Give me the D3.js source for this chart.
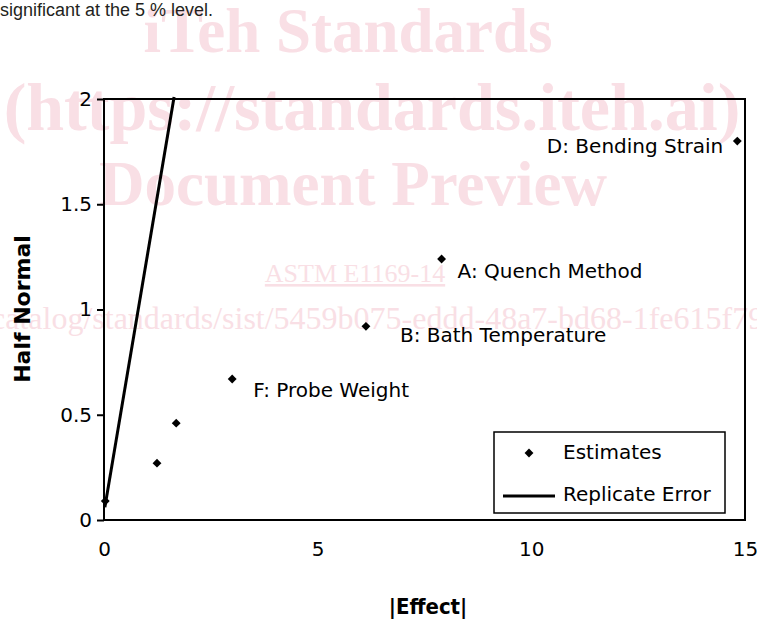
<!DOCTYPE html>
<html>
<head>
<meta charset="utf-8">
<script src="https://cdn.jsdelivr.net/npm/d3@7"></script>
<style>
  body { margin: 0; background: #fff; }
  svg { display: block; }
</style>
</head>
<body>
<div id="chart"></div>
<script>
var w = 757;
var h = 619;

// data
var effectLabels = ["", "", "", "F: Probe Weight", "B: Bath Temperature", "A: Quench Method", "D: Bending Strain"];
var effectValues = [0.03, 1.24, 1.69, 3.0, 6.13, 7.9, 14.82];
var halfNormalValues = [0.09, 0.27, 0.46, 0.67, 0.92, 1.24, 1.80];
var replicateX = [0.02, 1.64];
var replicateY = [0.06, 2.01];
var xTicks = [0, 5, 10, 15];
var yTicks = [0, 0.5, 1, 1.5, 2];
var legendItems = ["Estimates", "Replicate Error"];
var watermark = ["iTeh Standards", "(https://standards.iteh.ai)", "Document Preview", "ASTM E1169-14",
  "catalog/standards/sist/5459b075-eddd-48a7-bd68-1fe615f79e4c/astm-e1169-14"];

var font = "'DejaVu Sans', Verdana, sans-serif";

var svg = d3.select("#chart")
    .append("svg")
    .attr("width", w)
    .attr("height", h);

// pale watermark behind the chart
var wm = svg.append("g")
    .attr("fill", "#f9dfe5")
    .style("font-family", "'Liberation Serif', 'Times New Roman', serif");
wm.append("text").attr("x", 348).attr("y", 52).attr("text-anchor", "middle")
    .style("font-size", "63px").style("font-weight", "bold").text(watermark[0]);
wm.append("text").attr("x", 372).attr("y", 130).attr("text-anchor", "middle")
    .style("font-size", "68px").style("font-weight", "bold").text(watermark[1]);
wm.append("text").attr("x", 353).attr("y", 205).attr("text-anchor", "middle")
    .style("font-size", "63px").style("font-weight", "bold").text(watermark[2]);
wm.append("text").attr("x", 355).attr("y", 282).attr("text-anchor", "middle")
    .style("font-size", "26px").style("text-decoration", "underline").text(watermark[3]);
wm.append("text").attr("x", -9).attr("y", 329)
    .style("font-size", "32px").text(watermark[4]);

svg.append("text")
    .attr("x", 0)
    .attr("y", 16)
    .attr("fill", "#231f20")
    .style("font-family", "'Liberation Sans', Arial, sans-serif")
    .style("font-size", "18px")
    .text("significant at the 5 % level.");

var margin = {top: 99, right: 12, bottom: 99, left: 104},
    width = w - margin.left - margin.right,
    height = h - margin.top - margin.bottom;

var x = d3.scaleLinear().domain([0, 15]).range([0, width]),
    y = d3.scaleLinear().domain([0, 2]).range([height, 0]);

var g = svg.append("g")
    .attr("transform", "translate(" + margin.left + "," + margin.top + ")");

// x axis
var xAxis = g.append("g")
    .attr("transform", "translate(0," + height + ")")
    .call(d3.axisBottom(x).tickValues(xTicks).tickSize(0).tickPadding(22));
xAxis.select(".domain").remove();
xAxis.selectAll("text")
    .style("font-family", font)
    .style("font-size", "20px")
    .attr("fill", "#000");

// y axis
var yAxis = g.append("g")
    .call(d3.axisLeft(y).tickValues(yTicks).tickSize(7).tickPadding(5)
      .tickFormat(function(d) { return d; }));
yAxis.select(".domain").remove();
yAxis.selectAll("line").attr("stroke", "#000").attr("stroke-width", 2);
yAxis.selectAll("text")
    .style("font-family", font)
    .style("font-size", "20px")
    .attr("fill", "#000");

// plot frame
g.append("rect")
    .attr("x", 0)
    .attr("y", 0)
    .attr("width", width)
    .attr("height", height)
    .attr("fill", "none")
    .attr("stroke", "#000")
    .attr("stroke-width", 2);

// replicate error line
var line = d3.line()
    .x(function(d) { return x(d[0]); })
    .y(function(d) { return y(d[1]); });
g.append("path")
    .datum(d3.zip(replicateX, replicateY))
    .attr("d", line)
    .attr("fill", "none")
    .attr("stroke", "#000")
    .attr("stroke-width", 3);

// estimates
var diamond = d3.symbol().type(d3.symbolDiamond2).size(50);
var points = d3.zip(effectValues, halfNormalValues, effectLabels);
g.selectAll(".pt")
    .data(points)
    .enter().append("path")
      .attr("class", "pt")
      .attr("d", diamond)
      .attr("transform", function(d) { return "translate(" + x(d[0]) + "," + y(d[1]) + ")"; })
      .attr("fill", "#000");

// label offsets (dx, dy, anchor) for the named effects
var labelOffset = {
  "F: Probe Weight": [21, 11, "start"],
  "B: Bath Temperature": [34, 9, "start"],
  "A: Quench Method": [16, 12, "start"],
  "D: Bending Strain": [-14, 5, "end"]
};
g.selectAll(".lbl")
    .data(points.filter(function(d) { return d[2] !== ""; }))
    .enter().append("text")
      .attr("class", "lbl")
      .attr("x", function(d) { return x(d[0]) + labelOffset[d[2]][0]; })
      .attr("y", function(d) { return y(d[1]) + labelOffset[d[2]][1]; })
      .attr("dy", "0.35em")
      .attr("text-anchor", function(d) { return labelOffset[d[2]][2]; })
      .style("font-family", font)
      .style("font-size", "20px")
      .attr("fill", "#000")
      .text(function(d) { return d[2]; });

// legend
var lg = g.append("g").attr("transform", "translate(390,333)");
lg.append("rect")
    .attr("width", 231)
    .attr("height", 81)
    .attr("fill", "#fff")
    .attr("stroke", "#000")
    .attr("stroke-width", 1.5);
lg.append("path")
    .attr("d", diamond)
    .attr("transform", "translate(35,21)")
    .attr("fill", "#000");
lg.append("line")
    .attr("x1", 9).attr("x2", 61)
    .attr("y1", 64).attr("y2", 64)
    .attr("stroke", "#000")
    .attr("stroke-width", 3);
lg.selectAll(".leg")
    .data(legendItems)
    .enter().append("text")
      .attr("class", "leg")
      .attr("x", 69)
      .attr("y", function(d, i) { return 20 + i * 42; })
      .attr("dy", "0.35em")
      .style("font-family", font)
      .style("font-size", "20px")
      .attr("fill", "#000")
      .text(function(d) { return d; });

// axis titles
svg.append("text")
    .attr("transform", "translate(30,309) rotate(-90)")
    .attr("text-anchor", "middle")
    .style("font-family", font)
    .style("font-size", "22px")
    .style("font-weight", "bold")
    .text("Half Normal");

svg.append("text")
    .attr("x", 428)
    .attr("y", 614)
    .attr("text-anchor", "middle")
    .style("font-family", "'DejaVu Sans Condensed', " + font)
    .style("font-stretch", "condensed")
    .style("font-size", "22px")
    .style("font-weight", "bold")
    .text("|Effect|");
</script>
</body>
</html>
